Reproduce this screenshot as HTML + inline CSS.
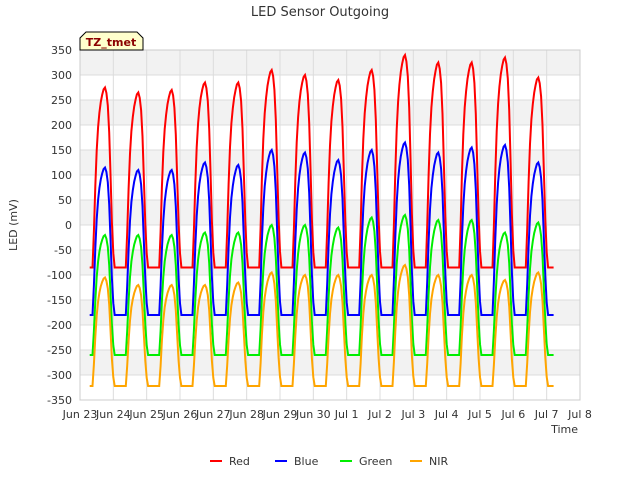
<!DOCTYPE html>
<html><head><meta charset="utf-8"><style>
body{margin:0;background:#fff;font-family:"Liberation Sans","DejaVu Sans",sans-serif;}
svg text{font-family:"DejaVu Sans","Liberation Sans",sans-serif;}
</style></head><body>
<svg id="chart" width="640" height="480" xmlns="http://www.w3.org/2000/svg">
<rect width="640" height="480" fill="#fff"/>
<text x="320" y="16" text-anchor="middle" font-size="13" fill="#333">LED Sensor Outgoing</text>
<g id="plot"></g>
<g id="axes"></g>
<g id="series"></g>
<text x="17" y="225" transform="rotate(-90 17 225)" text-anchor="middle" font-size="11" fill="#333">LED (mV)</text>
<text x="578" y="433" text-anchor="end" font-size="11" fill="#333">Time</text>
<g>
<path d="M80,50 L80,38 L86,32 L137,32 L143,38 L143,50 Z" fill="#ffffcc" stroke="#000" stroke-width="1"/>
<text x="111" y="46" text-anchor="middle" font-size="11" font-weight="bold" fill="#8b0000">TZ_tmet</text>
</g>
<g id="legend"></g>
</svg>
<script>
const yTicks=[-350,-300,-250,-200,-150,-100,-50,0,50,100,150,200,250,300,350];
const xTickLabels=["Jun 23","Jun 24","Jun 25","Jun 26","Jun 27","Jun 28","Jun 29","Jun 30","Jul 1","Jul 2","Jul 3","Jul 4","Jul 5","Jul 6","Jul 7","Jul 8"];
const seriesNames=["Red","Blue","Green","NIR"];
const seriesColors=["#ff0000","#0000ff","#00ee00","#ffa500"];
const baseValues=[-85,-180,-260,-322];
const redPeaks=[275,265,270,285,285,310,300,290,310,340,325,325,335,295];
const bluePeaks=[115,110,110,125,120,150,145,130,150,165,145,155,160,125];
const greenPeaks=[-20,-20,-20,-15,-15,0,0,-5,15,20,10,10,-15,5];
const nirPeaks=[-105,-120,-120,-120,-115,-95,-100,-100,-100,-80,-100,-100,-110,-95];
const hourProfile=[0.08,0,0,0,0,0,0,0,0,0,0.2,0.45,0.65,0.78,0.86,0.92,0.96,0.99,1.0,0.97,0.9,0.75,0.5,0.25];
const startDay=0.3, endDay=14.2;
const NS="http://www.w3.org/2000/svg";
const X0=80,X1=580,Y0=400,Y1=50;
function xs(d){return X0+(d/15)*(X1-X0);}
function ys(v){return Y0-(v+350)/700*(Y0-Y1);}
function el(t,a,p){const e=document.createElementNS(NS,t);for(const k in a)e.setAttribute(k,a[k]);p.appendChild(e);return e;}
const plot=document.getElementById('plot'),axes=document.getElementById('axes'),ser=document.getElementById('series'),leg=document.getElementById('legend');
el('rect',{x:X0,y:Y1,width:X1-X0,height:Y0-Y1,fill:'#fff'},plot);
for(let v=300;v>=-300;v-=100){
  const b=el('rect',{x:X0,y:ys(v+50),width:X1-X0,height:ys(v)-ys(v+50),fill:'#f2f2f2'},plot);
  
  
}
yTicks.forEach(v=>{
  const l=el('line',{x1:X0,x2:X1,y1:ys(v),y2:ys(v),stroke:'#dcdcdc','stroke-width':1},plot);
  
  
  const t=el('text',{x:X0-8,y:ys(v)+4,'text-anchor':'end','font-size':11,fill:'#333'},axes);
  t.textContent=v;
  
  
});
xTickLabels.forEach((s,i)=>{
  const l=el('line',{x1:xs(i),x2:xs(i),y1:Y1,y2:Y0,stroke:'#dcdcdc','stroke-width':1},plot);
  
  
  const t=el('text',{x:xs(i),y:Y0+18,'text-anchor':'middle','font-size':11,fill:'#333'},axes);
  t.textContent=s;
  
  
});
el('rect',{x:X0,y:Y1,width:X1-X0,height:Y0-Y1,fill:'none',stroke:'#ccc'},plot);
const peaks=[redPeaks,bluePeaks,greenPeaks,nirPeaks];
peaks.forEach((pk,si)=>{
  let pts=[];
  for(let h=Math.round(startDay*24);h<=Math.round(endDay*24);h++){
    const hr=h%24;
    const d=Math.floor(h/24)-(hr===0?1:0);
    const f=hourProfile[hr];
    const peak=(d>=0&&d<pk.length)?pk[d]:baseValues[si];
    const v=baseValues[si]+f*(peak-baseValues[si]);
    pts.push(xs(h/24).toFixed(1)+','+ys(v).toFixed(1));
  }
  const p=el('polyline',{points:pts.join(' '),fill:'none',stroke:seriesColors[si],'stroke-width':2},ser);
  
  
});
const legX=[210,275,340,410];
seriesNames.forEach((n,i)=>{
  const g=el('g',{},leg);
  
  
  el('line',{x1:legX[i],x2:legX[i]+12,y1:461,y2:461,stroke:seriesColors[i],'stroke-width':2},g);
  const t=el('text',{x:legX[i]+19,y:465,'font-size':11,fill:'#333'},g);
  t.textContent=n;
});
</script>
</body></html>
